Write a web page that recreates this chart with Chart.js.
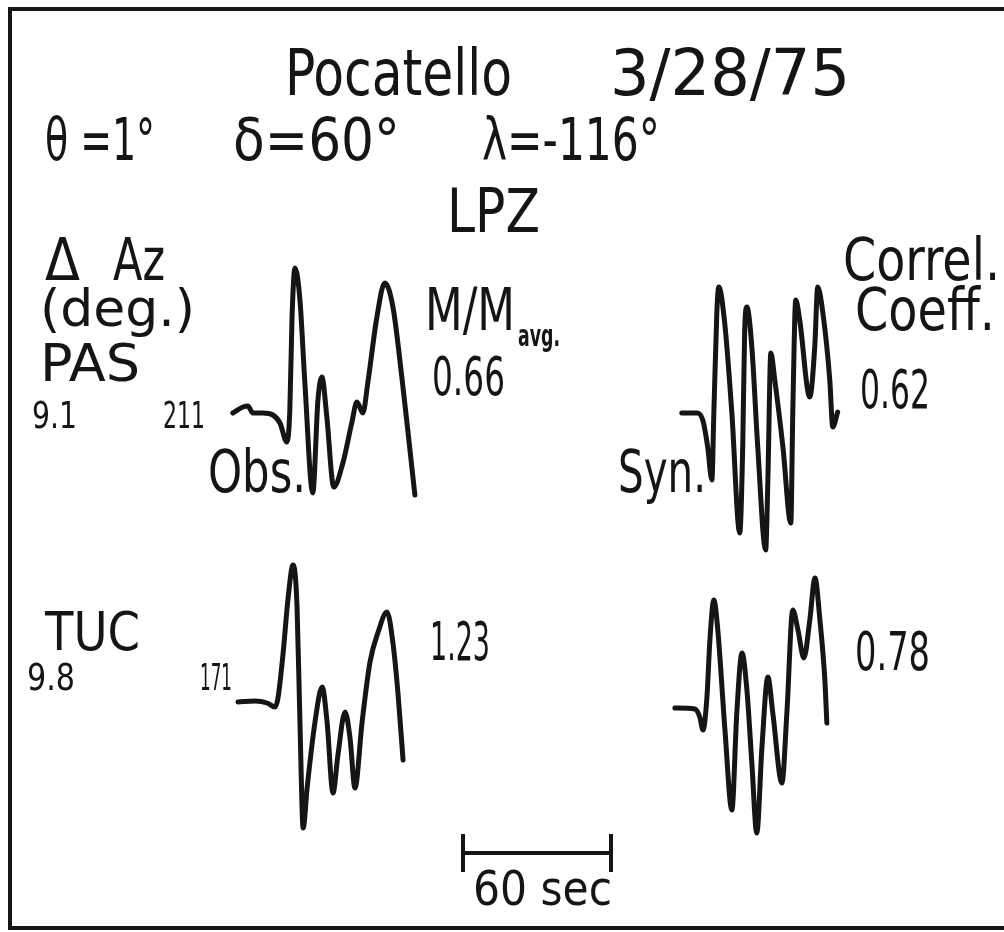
<!DOCTYPE html>
<html>
<head>
<meta charset="utf-8">
<script src="https://cdn.jsdelivr.net/npm/chart.js@4.4.1/dist/chart.umd.min.js"></script>
<style>
  html, body { margin: 0; padding: 0; background: #fff; }
  #wrap { width: 1004px; height: 932px; }
</style>
</head>
<body>
<div id="wrap"><canvas id="seis" width="1004" height="932"></canvas></div>
<script>
// Time samples (sec from trace start) and amplitudes (arbitrary units, up = +)
const pasObsT = [0, 4.1, 6.1, 8.1, 12.2, 16.2, 19.1, 21.9, 23.1, 24.0, 25.2, 27.2, 29.2, 32.4, 34.5, 36.1, 38.1, 40.9, 44.6, 48.2, 50.3, 52.7, 54.7, 58.4, 61.6, 64.9, 68.5, 71.8, 73.8];
const pasObsA = [-2, 4, 5, -2, -2, -4, -12, -31, 1, 94, 143, 111, 28, -82, 11, 34, -6, -76, -52, -12, 9, -2, 28, 94, 128, 104, 34, -39, -84];

const pasSynT = [0, 6.1, 8.5, 10.5, 12.2, 13.0, 14.2, 15.0, 17.4, 20.3, 23.5, 24.7, 25.5, 26.4, 28.4, 30.8, 34.0, 34.9, 36.1, 37.7, 41.0, 44.2, 45.0, 46.2, 47.8, 51.9, 53.9, 55.1, 57.2, 60.0, 61.2, 63.2];
const pasSynA = [0, 0, -7, -34, -67, 0, 100, 126, 90, 0, -120, -34, 83, 106, 66, -34, -137, -67, 60, 33, -34, -110, 0, 113, 93, 16, 66, 126, 100, 33, -14, 1];

const tucObsT = [0, 6.9, 11.8, 15.0, 16.2, 18.2, 20.3, 22.3, 23.9, 25.1, 26.4, 28.0, 31.2, 34.1, 36.1, 38.5, 40.5, 43.4, 45.4, 47.4, 50.3, 53.5, 56.8, 60.4, 62.9, 64.9, 66.9];
const tucObsA = [-1, 0, -2, -6, 3, 46, 103, 136, 96, -21, -127, -87, -21, 14, -21, -92, -54, -11, -37, -87, -21, 39, 69, 89, 56, 6, -59];

const tucSynT = [0, 8.1, 10.1, 11.4, 13.0, 14.2, 15.8, 17.4, 20.3, 23.1, 25.1, 27.2, 29.2, 31.2, 33.2, 35.3, 37.7, 39.7, 43.4, 45.4, 47.8, 49.9, 52.3, 54.7, 56.8, 58.8, 60.8, 61.6];
const tucSynA = [0, -1, -9, -22, 11, 68, 108, 78, -22, -102, -5, 55, 18, -55, -125, -39, 31, -5, -75, -5, 98, 78, 50, 88, 130, 88, 28, -15];

const scaleBarSec = 60;

// where each trace sits on the sheet: start time (sec) and baseline level
const layout = {
  pasObs: { t0: 94.4, level: 521 },
  pasSyn: { t0: 276.4, level: 519 },
  tucObs: { t0: 96.5, level: 231 },
  tucSyn: { t0: 273.6, level: 224 },
  bar: { t0: 187.7, level: 79, tick: 19 }
};

const PX_PER_SEC = 148 / 60;
const W = 1004, H = 932;

const toPoints = (ts, as, pos) => ts.map((t, i) => ({ x: pos.t0 + t, y: pos.level + as[i] }));

const trace = (data) => ({
  data: data,
  showLine: true,
  borderColor: '#151515',
  borderWidth: 5,
  pointRadius: 0,
  cubicInterpolationMode: 'monotone',
  borderCapStyle: 'round',
  borderJoinStyle: 'round'
});

const bar = layout.bar;
const barLine = (pts) => ({
  data: pts,
  showLine: true,
  borderColor: '#151515',
  borderWidth: 4,
  pointRadius: 0,
  tension: 0
});

const FONT = '"Liberation Sans Narrow", "DejaVu Sans Condensed", "Liberation Sans", sans-serif';

// text items: [text, left x, baseline y, size, width]
const labels = [
  ['Pocatello', 285, 95, 64, 227],
  ['3/28/75', 610, 95, 64, 240],
  ['θ =1°', 45, 160, 58, 110],
  ['δ=60°', 233, 160, 58, 167],
  ['λ=-116°', 482, 160, 58, 178],
  ['LPZ', 447, 232, 60, 93],
  ['Δ', 45, 280, 58, 35],
  ['Az', 113, 280, 58, 52],
  ['(deg.)', 40, 326, 52, 155],
  ['PAS', 40, 381, 52, 100],
  ['9.1', 32, 428, 38, 45],
  ['211', 163, 428, 38, 42],
  ['Obs.', 208, 492, 58, 98],
  ['M/M', 425, 330, 58, 90],
  ['0.66', 432, 395, 54, 73],
  ['Correl.', 843, 280, 58, 157],
  ['Coeff.', 855, 330, 58, 140],
  ['0.62', 860, 408, 54, 70],
  ['Syn.', 618, 492, 58, 88],
  ['TUC', 45, 650, 54, 95],
  ['9.8', 27, 690, 38, 48],
  ['171', 200, 690, 38, 32],
  ['1.23', 430, 660, 54, 60],
  ['0.78', 855, 670, 54, 75],
  ['60 sec', 473, 905, 48, 139]
];

const sheetPlugin = {
  id: 'sheet',
  beforeDraw(chart) {
    const ctx = chart.ctx;
    ctx.save();
    ctx.fillStyle = '#fff';
    ctx.fillRect(0, 0, W, H);
    ctx.restore();
  },
  afterDraw(chart) {
    const ctx = chart.ctx;
    ctx.save();
    ctx.fillStyle = '#151515';
    ctx.textBaseline = 'alphabetic';
    labels.forEach(([txt, x, y, size, w]) => {
      ctx.font = size + 'px ' + FONT;
      const m = ctx.measureText(txt).width;
      ctx.save();
      ctx.translate(x, y);
      ctx.scale(w / m, 1);
      ctx.fillText(txt, 0, 0);
      ctx.restore();
    });
    // subscript of M/Mavg.
    ctx.font = 'bold 30px ' + FONT;
    const m = ctx.measureText('avg.').width;
    ctx.save();
    ctx.translate(518, 346);
    ctx.scale(42 / m, 1);
    ctx.fillText('avg.', 0, 0);
    ctx.restore();
    // frame
    ctx.strokeStyle = '#151515';
    ctx.lineWidth = 4;
    ctx.strokeRect(10, 9, 1010, 919);
    ctx.restore();
  }
};

new Chart(document.getElementById('seis'), {
  type: 'scatter',
  data: {
    datasets: [
      trace(toPoints(pasObsT, pasObsA, layout.pasObs)),
      trace(toPoints(pasSynT, pasSynA, layout.pasSyn)),
      trace(toPoints(tucObsT, tucObsA, layout.tucObs)),
      trace(toPoints(tucSynT, tucSynA, layout.tucSyn)),
      barLine([{ x: bar.t0, y: bar.level }, { x: bar.t0 + scaleBarSec, y: bar.level }]),
      barLine([{ x: bar.t0, y: bar.level + bar.tick }, { x: bar.t0, y: bar.level - bar.tick }]),
      barLine([{ x: bar.t0 + scaleBarSec, y: bar.level + bar.tick }, { x: bar.t0 + scaleBarSec, y: bar.level - bar.tick }])
    ]
  },
  options: {
    responsive: false,
    animation: false,
    layout: { padding: 0 },
    plugins: { legend: { display: false }, tooltip: { enabled: false } },
    scales: {
      x: { type: 'linear', min: 0, max: W / PX_PER_SEC, display: false },
      y: { type: 'linear', min: 0, max: H, display: false }
    }
  },
  plugins: [sheetPlugin]
});
</script>
</body>
</html>
